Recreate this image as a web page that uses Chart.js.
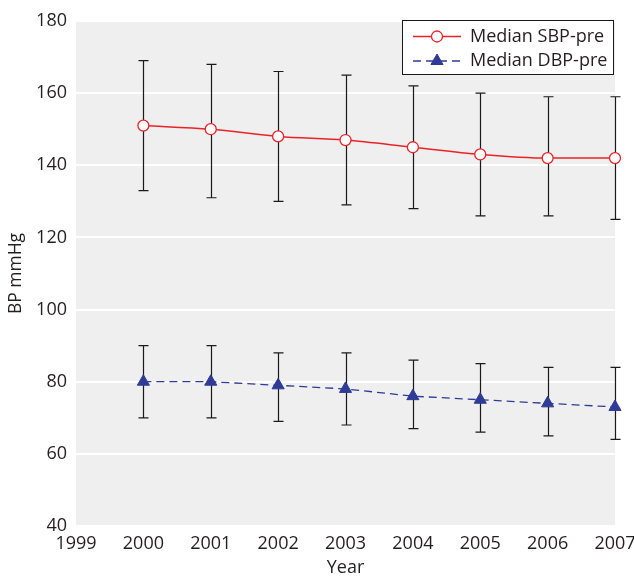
<!DOCTYPE html>
<html>
<head>
<meta charset="utf-8">
<script src="https://cdn.jsdelivr.net/npm/chart.js@4.4.1/dist/chart.umd.min.js"></script>
<style>
html,body{margin:0;padding:0;background:#fff;}
#wrap{width:634px;height:577px;position:relative;}
</style>
</head>
<body>
<div id="wrap"><canvas id="c" width="634" height="577"></canvas></div>
<script>
const years = [2000, 2001, 2002, 2003, 2004, 2005, 2006, 2007];
const sbpMedian = [151, 150, 148, 147, 145, 143, 142, 142];
const sbpUpper  = [169, 168, 166, 165, 162, 160, 159, 159];
const sbpLower  = [133, 131, 130, 129, 128, 126, 126, 125];
const dbpMedian = [80, 80, 79, 78, 76, 75, 74, 73];
const dbpUpper  = [90, 90, 88, 88, 86, 85, 84, 84];
const dbpLower  = [70, 70, 69, 68, 67, 66, 65, 64];
const seriesLabels = ['Median SBP-pre', 'Median DBP-pre'];
const xTitle = 'Year';
const yTitle = 'BP mmHg';

const RED = '#ec2227';
const BLUE = '#2f3b96';
const TEXT = '#231f20';
const FONT = "'Open Sans', sans-serif";

const toPts = (xs, ys) => xs.map((x, i) => ({x: x, y: ys[i]}));

const bgPlugin = {
  id: 'bg',
  beforeDraw(chart) {
    const {ctx, chartArea: a} = chart;
    ctx.save();
    ctx.fillStyle = '#eeefee';
    ctx.fillRect(a.left, a.top, a.right - a.left, a.bottom - a.top);
    ctx.restore();
  }
};

const errPlugin = {
  id: 'errbars',
  beforeDatasetsDraw(chart) {
    const {ctx} = chart;
    const xs = chart.scales.x, ys = chart.scales.y;
    const sets = [[sbpLower, sbpUpper], [dbpLower, dbpUpper]];
    ctx.save();
    ctx.strokeStyle = '#1a1a1a';
    ctx.lineWidth = 1.2;
    sets.forEach(([lo, hi]) => {
      years.forEach((yr, i) => {
        const px = Math.round(xs.getPixelForValue(yr)) + 0.5;
        const y1 = ys.getPixelForValue(lo[i]);
        const y2 = ys.getPixelForValue(hi[i]);
        ctx.beginPath();
        ctx.moveTo(px, y1); ctx.lineTo(px, y2);
        ctx.moveTo(px - 5, y1); ctx.lineTo(px + 5, y1);
        ctx.moveTo(px - 5, y2); ctx.lineTo(px + 5, y2);
        ctx.stroke();
      });
    });
    ctx.restore();
  }
};

const legendPlugin = {
  id: 'boxlegend',
  afterDraw(chart) {
    const {ctx} = chart;
    const bx = 402.5, by = 20.5, bw = 211, bh = 54;
    ctx.save();
    ctx.fillStyle = '#ffffff';
    ctx.fillRect(bx, by, bw, bh);
    ctx.strokeStyle = '#1a1a1a';
    ctx.lineWidth = 1;
    ctx.strokeRect(bx, by, bw, bh);
    const rows = [36.5, 61];
    chart.data.datasets.forEach((ds, i) => {
      const y = rows[i];
      ctx.save();
      ctx.strokeStyle = ds.borderColor;
      ctx.lineWidth = ds.borderWidth;
      ctx.setLineDash(ds.borderDash || []);
      ctx.beginPath();
      ctx.moveTo(413, y); ctx.lineTo(461, y);
      ctx.stroke();
      ctx.restore();
      ctx.save();
      ctx.setLineDash([]);
      ctx.fillStyle = ds.pointBackgroundColor;
      ctx.strokeStyle = ds.pointBorderColor;
      ctx.lineWidth = ds.pointBorderWidth;
      ctx.beginPath();
      if (ds.pointStyle === 'circle') {
        ctx.arc(437, y, ds.pointRadius, 0, Math.PI * 2);
      } else {
        const r = ds.pointRadius;
        ctx.moveTo(437, y - r);
        ctx.lineTo(437 + r * Math.sin(Math.PI / 3 * 2), y + r * 0.5);
        ctx.lineTo(437 - r * Math.sin(Math.PI / 3 * 2), y + r * 0.5);
        ctx.closePath();
      }
      ctx.fill(); ctx.stroke();
      ctx.restore();
      ctx.fillStyle = TEXT;
      ctx.font = "18px " + FONT;
      ctx.textBaseline = 'middle';
      ctx.textAlign = 'left';
      ctx.fillText(ds.label, 470, y);
    });
    ctx.restore();
  }
};

new Chart(document.getElementById('c'), {
  type: 'line',
  data: {
    datasets: [
      {
        label: seriesLabels[0],
        data: toPts(years, sbpMedian),
        borderColor: RED,
        borderWidth: 1.5,
        cubicInterpolationMode: 'monotone',
        pointStyle: 'circle',
        pointRadius: 5.5,
        pointBorderWidth: 1.3,
        pointBackgroundColor: '#ffffff',
        pointBorderColor: RED,
        fill: false
      },
      {
        label: seriesLabels[1],
        data: toPts(years, dbpMedian),
        borderColor: BLUE,
        borderWidth: 1.3,
        borderDash: [8, 5],
        pointStyle: 'triangle',
        pointRadius: 7,
        pointBorderWidth: 1,
        pointBackgroundColor: BLUE,
        pointBorderColor: BLUE,
        fill: false
      }
    ]
  },
  options: {
    responsive: false,
    animation: false,
    devicePixelRatio: 1,
    clip: false,
    layout: {padding: {left: 0, right: 19, top: 21, bottom: 0}},
    plugins: {legend: {display: false}, tooltip: {enabled: false}},
    scales: {
      x: {
        type: 'linear',
        min: 1999, max: 2007,
        grid: {display: false, drawTicks: false},
        border: {display: false},
        ticks: {stepSize: 1, padding: 7, color: TEXT, font: {family: FONT, size: 18},
                callback: v => String(v), maxRotation: 0, autoSkip: false},
        title: {display: true, text: xTitle, color: TEXT, font: {family: FONT, size: 18, lineHeight: 1},
                padding: {top: 0, bottom: 0}},
        afterFit: s => { s.height = 51; s.paddingLeft = 0; s.paddingRight = 0; }
      },
      y: {
        min: 40, max: 180,
        grid: {color: '#ffffff', lineWidth: 2, drawTicks: false},
        border: {display: false},
        ticks: {stepSize: 20, padding: 9, color: TEXT, font: {family: FONT, size: 18}},
        title: {display: true, text: yTitle, color: TEXT, font: {family: FONT, size: 17.5, lineHeight: 1.2},
                padding: {top: 6, bottom: 0}},
        afterFit: s => { s.width = 76; }
      }
    }
  },
  plugins: [bgPlugin, errPlugin, legendPlugin]
});
</script>
</body>
</html>
